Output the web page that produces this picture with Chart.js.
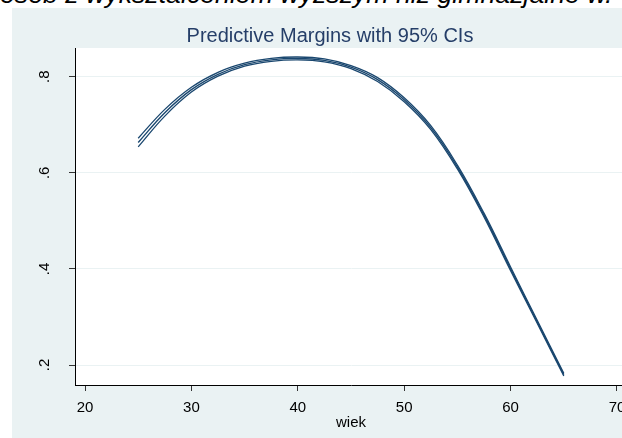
<!DOCTYPE html>
<html>
<head>
<meta charset="utf-8">
<script src="https://cdn.jsdelivr.net/npm/chart.js@4.4.1/dist/chart.umd.min.js"></script>
<style>
  html, body { margin: 0; padding: 0; background: #ffffff; overflow: hidden; width: 622px; height: 438px; }
  #caption {
    position: absolute; left: 0px; top: -19px; white-space: nowrap;
    font-family: "Liberation Sans", Arial, sans-serif; font-style: italic;
    font-size: 26.7px; line-height: 1; color: #000; z-index: 1;
  }
  #wrap { position: absolute; left: 0; top: 0; z-index: 2; }
</style>
</head>
<body>
<div id="caption">osób z wykształceniem wyższym niż gimnazjalne w.</div>
<div id="wrap"><canvas id="c" width="660" height="438"></canvas></div>
<script>
// ---- data ----
const chartTitle = "Predictive Margins with 95% CIs";
const xAxisTitle = "wiek";
const ages = [25, 27.5, 30, 32.5, 35, 37.5, 40, 42.5, 45, 47.5, 50, 52.5, 55, 57.5, 60, 62.5, 65];
const estimate = [0.663, 0.725, 0.773, 0.805, 0.825, 0.835, 0.838, 0.834, 0.820, 0.794, 0.752, 0.694, 0.612, 0.512, 0.400, 0.290, 0.180];
const ciLower = [0.654, 0.718, 0.768, 0.801, 0.822, 0.832, 0.835, 0.831, 0.817, 0.790, 0.748, 0.690, 0.608, 0.508, 0.396, 0.287, 0.177];
const ciUpper = [0.672, 0.732, 0.778, 0.809, 0.828, 0.838, 0.841, 0.837, 0.823, 0.798, 0.756, 0.698, 0.616, 0.516, 0.404, 0.293, 0.183];
const xTickValues = [20, 30, 40, 50, 60, 70];
const yTickValues = [0.2, 0.4, 0.6, 0.8];
const yTickLabels = [".2", ".4", ".6", ".8"];

const NAVY = "#1a476f";
const BG = "#eaf2f3";
const FONT = "'Liberation Sans', Arial, sans-serif";

function toPts(ys) { return ages.map((a, i) => ({ x: a, y: ys[i] })); }

const bgPlugin = {
  id: "bg",
  beforeDraw(chart) {
    const ctx = chart.ctx, a = chart.chartArea;
    ctx.save();
    ctx.fillStyle = BG;
    ctx.fillRect(12, 8, chart.width - 12, chart.height - 8);
    ctx.fillStyle = "#ffffff";
    ctx.fillRect(a.left, a.top, a.right - a.left, a.bottom - a.top);
    ctx.restore();
  },
  afterDraw(chart) {
    const ctx = chart.ctx, ys = chart.scales.y;
    ctx.save();
    ctx.fillStyle = "#253e68";
    ctx.font = "20px " + FONT;
    ctx.textAlign = "center";
    ctx.textBaseline = "alphabetic";
    ctx.fillText(chartTitle, 330, 42);
    ctx.fillStyle = "#000";
    ctx.font = "15px " + FONT;
    yTickValues.forEach((v, i) => {
      const py = ys.getPixelForValue(v);
      ctx.save();
      ctx.translate(49, py);
      ctx.rotate(-Math.PI / 2);
      ctx.textAlign = "center";
      ctx.textBaseline = "alphabetic";
      ctx.fillText(yTickLabels[i], 0, 0);
      ctx.restore();
    });
    ctx.restore();
  }
};

const lineDs = (label, ys, w) => ({
  label, data: toPts(ys), borderColor: NAVY, borderWidth: w,
  pointRadius: 0, fill: false, tension: 0.4
});

new Chart(document.getElementById("c"), {
  type: "line",
  data: {
    datasets: [
      lineDs("upper", ciUpper, 1.3),
      lineDs("lower", ciLower, 1.3),
      lineDs("estimate", estimate, 1.4)
    ]
  },
  options: {
    responsive: false,
    devicePixelRatio: 1,
    animation: false,
    layout: { padding: { top: 48, right: 33, left: 0, bottom: 0 } },
    plugins: { legend: { display: false }, title: { display: false }, tooltip: { enabled: false } },
    scales: {
      x: {
        type: "linear",
        min: 19.06, max: 70.94,
        afterBuildTicks(s) { s.ticks = xTickValues.map(v => ({ value: v })); },
        afterFit(s) { s.height = 53; },
        grid: { drawOnChartArea: false, drawTicks: true, tickLength: 6, tickColor: "#333" },
        border: { display: true, color: "#000", width: 1 },
        ticks: { color: "#000", font: { family: FONT, size: 15 }, padding: 8, maxRotation: 0, autoSkip: false },
        title: { display: true, text: xAxisTitle, color: "#000", font: { family: FONT, size: 15 }, padding: { top: 0, bottom: 6 } }
      },
      y: {
        type: "linear",
        min: 0.1584, max: 0.8597,
        afterBuildTicks(s) { s.ticks = yTickValues.map(v => ({ value: v })); },
        afterFit(s) { s.width = 75; },
        grid: { drawOnChartArea: true, color: BG, lineWidth: 1, drawTicks: true, tickLength: 6, tickColor: "#333" },
        border: { display: true, color: "#000", width: 1 },
        ticks: { display: false }
      }
    }
  },
  plugins: [bgPlugin]
});
</script>
</body>
</html>
